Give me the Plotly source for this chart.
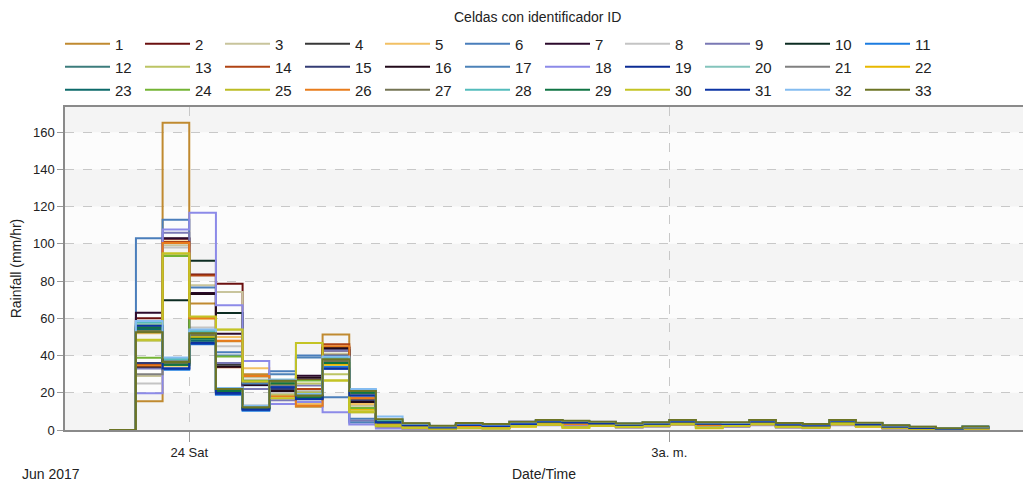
import pandas as pd
import plotly.graph_objects as go

# ---- time stamps (10-minute rainfall intervals) ----
times = pd.date_range("2017-06-23 23:30", "2017-06-24 05:00", freq="10min")

cell_ids = [str(i) for i in range(1, 34)]

# ---- rainfall (mm/hr) per cell, one list per cell ----
id_01 = [0, 15.4, 165, 67.9, 47.7, 30, 18.5, 12.5, 51.3, 16.7, 3.0, 1.5, 0.8, 1.8, 1.5, 2.5, 3.5, 3.0, 2.8, 2.0, 2.6, 3.8, 2.6, 2.4, 3.6, 2.0, 1.8, 3.5, 2.2, 1.2, 0.8, 0.4, 0.9, 0.9]
id_02 = [0, 60, 102.7, 83.5, 78.6, 26, 22, 27, 44.5, 15.4, 3.5, 2.0, 1.0, 2.2, 1.8, 2.8, 3.8, 3.4, 3.0, 2.4, 2.9, 4.0, 3.0, 2.8, 4.0, 2.4, 2.0, 3.9, 2.5, 1.5, 0.9, 0.5, 1.0, 1.0]
id_03 = [0, 29, 99.3, 77.7, 74.1, 28.4, 20, 21, 41, 13, 4.0, 2.5, 1.2, 2.5, 2.0, 3.0, 4.2, 3.8, 3.3, 2.6, 3.2, 4.4, 3.2, 3.0, 4.3, 2.7, 2.2, 4.2, 2.8, 1.7, 1.0, 0.6, 1.2, 1.2]
id_04 = [0, 55, 38, 52, 35, 12, 25, 18, 43, 20, 2.5, 1.2, 0.5, 1.5, 1.2, 2.2, 3.2, 2.8, 2.5, 1.8, 2.4, 3.4, 2.4, 2.2, 3.2, 1.8, 1.5, 3.2, 2.0, 1.0, 0.6, 0.3, 0.8, 0.8]
id_05 = [0, 52, 101.3, 59.8, 50, 33.2, 19, 14, 40, 14, 3.2, 1.8, 0.9, 2.0, 1.6, 2.6, 3.6, 3.2, 2.9, 2.2, 2.7, 3.9, 2.8, 2.6, 3.8, 2.2, 1.9, 3.7, 2.3, 1.3, 0.8, 0.4, 0.9, 0.9]
id_06 = [0, 103, 113, 76.5, 41.8, 24, 31.6, 40, 17.6, 6, 4.5, 2.8, 1.5, 3.0, 2.5, 3.8, 5.2, 4.6, 4.0, 3.0, 3.7, 5.0, 3.8, 3.6, 5.0, 3.3, 2.8, 5.0, 3.5, 2.2, 1.4, 0.8, 1.8, 1.8]
id_07 = [0, 63, 103, 73.6, 51.7, 24.2, 22, 29.2, 42.7, 15.4, 3.8, 2.2, 1.1, 2.4, 1.9, 3.0, 4.0, 3.6, 3.2, 2.5, 3.0, 4.2, 3.1, 2.9, 4.2, 2.6, 2.1, 4.0, 2.6, 1.6, 1.0, 0.5, 1.1, 1.1]
id_08 = [0, 25, 98, 55, 45, 27, 20, 21.2, 38, 10, 2.8, 1.4, 0.6, 1.6, 1.3, 2.3, 3.3, 2.9, 2.6, 1.9, 2.5, 3.5, 2.5, 2.3, 3.4, 1.9, 1.6, 3.3, 2.1, 1.1, 0.7, 0.3, 0.8, 0.8]
id_09 = [0, 33, 106, 52, 36, 22, 16, 23.9, 42.7, 5, 1.5, 1.0, 0.4, 1.4, 1.1, 4.0, 3.0, 2.6, 3.8, 1.6, 2.2, 3.0, 2.2, 2.0, 3.0, 1.6, 1.4, 3.0, 3.2, 1.0, 0.6, 0.3, 0.7, 0.7]
id_10 = [0, 54, 69.7, 90.9, 62.8, 26, 24, 19, 36, 19, 4.2, 2.6, 1.3, 2.8, 2.2, 3.3, 4.6, 4.2, 3.6, 2.8, 3.4, 4.6, 3.5, 3.3, 4.6, 3.0, 2.5, 4.6, 3.1, 1.9, 1.2, 0.7, 1.4, 1.4]
id_11 = [0, 56.5, 32.3, 46, 19, 10.4, 23.5, 16.7, 34, 20, 4.4, 2.8, 1.4, 2.9, 2.3, 3.5, 4.8, 4.3, 3.7, 2.9, 3.5, 4.8, 3.6, 3.4, 4.8, 3.1, 2.6, 4.8, 3.2, 2.0, 1.3, 0.8, 1.5, 1.5]
id_12 = [0, 57, 37, 51, 22, 11.5, 25, 18, 37, 20.5, 4.6, 3.0, 1.6, 3.1, 2.5, 3.7, 5.0, 4.5, 3.9, 3.1, 3.6, 5.0, 3.7, 3.5, 5.0, 3.2, 2.7, 5.0, 3.4, 2.1, 1.4, 0.8, 1.6, 1.6]
id_13 = [0, 48, 94.5, 60.7, 53.9, 26, 19, 25, 30, 9.5, 3.0, 1.6, 0.8, 1.4, 1.2, 2.6, 3.4, 2.0, 2.6, 2.0, 2.4, 3.6, 1.5, 2.5, 3.5, 2.0, 1.8, 3.6, 2.2, 1.3, 0.7, 0.4, 0.9, 0.9]
id_14 = [0, 35, 101, 83, 33.7, 25, 21, 22, 46, 17, 3.4, 2.0, 1.0, 2.1, 1.7, 2.7, 3.7, 3.3, 2.9, 2.3, 2.8, 3.9, 2.9, 2.7, 3.9, 2.3, 1.9, 3.8, 2.4, 1.4, 0.9, 0.5, 1.0, 1.0]
id_15 = [0, 36, 36, 50, 21, 12, 22, 17, 40, 16, 3.9, 2.4, 1.2, 2.6, 2.1, 3.2, 4.4, 4.0, 3.4, 2.7, 3.3, 4.5, 3.4, 3.2, 4.5, 2.9, 2.4, 4.4, 3.0, 1.8, 1.1, 0.6, 1.3, 1.3]
id_16 = [0, 34, 36, 73, 34, 24.5, 21, 28, 44, 15, 3.6, 2.1, 1.0, 2.3, 1.8, 2.9, 3.9, 3.5, 3.1, 2.4, 3.0, 4.1, 3.0, 2.8, 4.1, 2.5, 2.0, 4.0, 2.5, 1.5, 0.9, 0.5, 1.0, 1.0]
id_17 = [0, 58, 38, 52, 40, 25, 30, 39, 39, 4, 4.8, 3.0, 1.7, 3.2, 2.7, 4.0, 5.4, 4.8, 4.2, 3.2, 3.8, 5.2, 3.9, 3.7, 5.2, 3.4, 2.9, 5.2, 3.6, 2.3, 1.5, 0.9, 1.9, 1.9]
id_18 = [0, 19.7, 107.7, 116.7, 67, 37, 14, 15, 9.5, 2.9, 0.8, 0.6, 0.3, 1.0, 0.8, 4.5, 2.5, 2.2, 4.4, 1.2, 1.8, 2.8, 1.8, 1.6, 2.6, 1.2, 1.0, 2.6, 3.8, 0.8, 0.5, 0.2, 0.6, 0.6]
id_19 = [0, 55, 33, 47, 20, 11, 24, 17, 33, 18.5, 4.0, 2.5, 1.3, 2.7, 2.2, 3.3, 4.5, 4.1, 3.5, 2.8, 3.4, 4.6, 3.4, 3.2, 4.6, 2.9, 2.4, 4.5, 3.0, 1.8, 1.1, 0.6, 1.3, 1.3]
id_20 = [0, 57, 38.2, 53, 22, 12, 25, 18.5, 38, 21, 5.0, 3.2, 1.8, 3.3, 2.8, 4.0, 5.2, 4.7, 4.1, 3.3, 3.9, 5.3, 3.9, 3.8, 5.2, 3.5, 3.0, 5.2, 3.6, 2.3, 1.5, 0.9, 1.7, 1.7]
id_21 = [0, 30, 37, 51, 21.5, 13, 24, 20, 36, 19, 3.3, 3.6, 2.0, 2.0, 1.7, 2.7, 3.7, 3.3, 2.9, 3.6, 2.8, 3.9, 2.9, 2.7, 3.9, 2.3, 1.9, 3.8, 2.4, 2.6, 1.7, 1.0, 1.0, 1.0]
id_22 = [0, 53.5, 34.6, 49.9, 21, 12, 25, 19, 35, 11, 2.0, 1.0, 0.5, 1.0, 0.8, 1.8, 2.8, 1.2, 2.2, 1.5, 2.0, 3.0, 1.0, 2.0, 3.0, 1.5, 1.2, 3.0, 1.8, 1.0, 0.6, 0.3, 0.7, 0.7]
id_23 = [0, 54, 35, 48, 21, 12, 26, 18, 37, 20, 4.3, 2.7, 1.4, 2.9, 2.3, 3.4, 4.7, 4.2, 3.6, 2.9, 3.4, 4.7, 3.5, 3.3, 4.7, 3.0, 2.5, 4.7, 3.2, 1.9, 1.2, 0.7, 1.4, 1.4]
id_24 = [0, 38.8, 93.4, 51.7, 39.5, 26.5, 26.5, 26.6, 36.4, 11.8, 3.6, 2.0, 1.0, 2.3, 1.9, 2.9, 3.9, 3.5, 3.1, 2.5, 3.0, 4.1, 3.0, 2.8, 4.1, 2.5, 2.1, 4.0, 2.6, 1.5, 0.9, 0.5, 1.1, 1.1]
id_25 = [0, 56, 36, 50.5, 22, 12, 26, 20, 26.6, 9.5, 2.2, 1.2, 0.6, 1.1, 0.9, 2.0, 3.0, 1.4, 2.4, 1.7, 2.2, 3.2, 1.2, 2.2, 3.2, 1.7, 1.4, 3.2, 2.0, 1.2, 0.7, 0.4, 0.8, 0.8]
id_26 = [0, 34.6, 100.5, 60, 48, 29, 18, 13, 45, 17, 3.1, 1.7, 0.8, 1.9, 1.5, 2.5, 3.5, 3.1, 2.8, 2.1, 2.6, 3.7, 2.7, 2.5, 3.7, 2.1, 1.8, 3.6, 2.2, 1.3, 0.8, 0.4, 0.9, 0.9]
id_27 = [0, 53, 36, 51, 22, 12.2, 26, 18, 37, 20, 5.5, 3.4, 2.1, 3.6, 3.0, 4.2, 5.2, 4.8, 4.2, 3.4, 4.0, 5.2, 4.0, 3.9, 5.2, 3.6, 3.0, 5.2, 3.7, 2.4, 1.6, 0.9, 1.8, 1.8]
id_28 = [0, 58, 38, 53, 21.5, 12.5, 27, 19, 39, 21.5, 5.2, 3.2, 1.9, 3.4, 2.9, 4.1, 5.3, 4.8, 4.2, 3.3, 3.9, 5.3, 3.9, 3.8, 5.3, 3.5, 3.0, 5.3, 3.7, 2.3, 1.5, 0.9, 1.8, 1.8]
id_29 = [0, 55, 35, 49, 21, 12, 25, 17.5, 36, 20, 4.1, 2.6, 1.3, 2.8, 2.2, 3.3, 4.6, 4.1, 3.6, 2.8, 3.4, 4.6, 3.5, 3.3, 4.6, 3.0, 2.5, 4.6, 3.1, 1.9, 1.2, 0.7, 1.4, 1.4]
id_30 = [0, 48.5, 95, 61, 54, 26, 17, 46.7, 26.6, 10, 2.5, 1.3, 0.7, 1.2, 1.0, 2.1, 3.1, 1.5, 2.5, 1.8, 2.3, 3.3, 1.3, 2.3, 3.3, 1.8, 1.5, 3.3, 2.1, 1.2, 0.7, 0.4, 0.8, 0.8]
id_31 = [0, 56, 33, 46.5, 19.5, 11, 23, 16.5, 32.9, 18.5, 4.0, 2.5, 1.3, 2.7, 2.1, 3.2, 4.5, 4.0, 3.5, 2.8, 3.3, 4.5, 3.4, 3.2, 4.5, 2.9, 2.4, 4.8, 3.0, 1.8, 1.1, 0.6, 1.3, 1.3]
id_32 = [0, 58.5, 39, 54, 22.5, 13, 27, 19.5, 39.5, 22, 7.2, 3.3, 2.0, 3.5, 3.0, 4.2, 5.3, 4.9, 4.3, 3.4, 4.0, 5.3, 4.0, 3.9, 5.3, 3.6, 3.1, 5.3, 3.8, 2.4, 1.6, 0.9, 1.8, 1.8]
id_33 = [0, 52.5, 36.5, 52, 22, 12.2, 26.5, 18.5, 38, 21, 5.8, 3.6, 2.3, 3.8, 3.2, 4.4, 5.4, 5.0, 4.4, 3.5, 4.1, 5.4, 4.1, 4.1, 5.4, 3.7, 3.2, 5.4, 3.9, 2.6, 1.7, 1.0, 1.9, 1.9]

series = [id_01, id_02, id_03, id_04, id_05, id_06, id_07, id_08, id_09, id_10, id_11,
          id_12, id_13, id_14, id_15, id_16, id_17, id_18, id_19, id_20, id_21, id_22,
          id_23, id_24, id_25, id_26, id_27, id_28, id_29, id_30, id_31, id_32, id_33]

colors = ["#c08a30", "#6b1010", "#c8c49c", "#383838", "#f2c064", "#4a7ebb", "#2c0a2c",
          "#c4c4c4", "#7a78b4", "#0c2c22", "#1c7ce0", "#3c7c7c", "#bcc464", "#b04414",
          "#343c74", "#220a1a", "#4c82b8", "#8c8ae8", "#0c2c94", "#84c4bc", "#808080",
          "#e8b800", "#0c6a6a", "#74b434", "#bcbc24", "#e87c1c", "#747454", "#54bcbc",
          "#107444", "#c4c424", "#0c34a4", "#84bcf0", "#6c7424"]

FONT = "Liberation Sans, Arial, sans-serif"
TXT = "#222222"

# plot-area geometry in pixels (used only to place text in paper units)
PLOT_L, PLOT_R, PLOT_T, PLOT_B = 65, 1023, 107, 430
PW, PH = PLOT_R - PLOT_L, PLOT_B - PLOT_T

# legend rows (11 entries each), one plotly legend per row
legend_ids = ["legend", "legend2", "legend3"]
row_centers_px = [44, 67, 90]

fig = go.Figure()
for i, (name, vals, col) in enumerate(zip(cell_ids, series, colors)):
    fig.add_trace(go.Scatter(
        x=times, y=vals, name=name, mode="lines",
        line=dict(color=col, width=2, shape="hv"),
        legend=legend_ids[i // 11],
    ))

# subtle alternating horizontal bands
for lo in (0, 40, 80, 120, 160):
    fig.add_shape(type="rect", xref="paper", yref="y", x0=0, x1=1, y0=lo,
                  y1=min(lo + 20, 173.5), fillcolor="#f4f4f4", line_width=0,
                  layer="below")

legend_common = dict(
    orientation="h", xref="container", x=60 / 1024, xanchor="left",
    yref="container", yanchor="middle",
    entrywidth=20, entrywidthmode="pixels", itemwidth=45,
    font=dict(family=FONT, size=15, color=TXT),
    bgcolor="rgba(0,0,0,0)", tracegroupgap=0,
)
legends = {}
for lid, yc in zip(legend_ids, row_centers_px):
    legends[lid] = dict(legend_common, y=1 - yc / 484)

fig.update_layout(
    width=1024, height=484,
    margin=dict(l=PLOT_L, r=1024 - PLOT_R, t=PLOT_T, b=484 - PLOT_B, autoexpand=False),
    paper_bgcolor="white", plot_bgcolor="#fcfcfc",
    font=dict(family=FONT, size=13, color=TXT),
    showlegend=True,
    **legends,
    xaxis=dict(
        type="date", automargin=False,
        range=["2017-06-23 23:13:24", "2017-06-24 05:12:40"],
        tickvals=["2017-06-24 00:00", "2017-06-24 03:00"],
        ticktext=["24 Sat", "3a. m."],
        ticks="outside", ticklen=10, tickcolor="#999",
        showgrid=True, gridcolor="#c8c8c8", griddash="dash", gridwidth=1,
        showline=True, linecolor="#8a8a8a", linewidth=1.5, mirror=True,
        zeroline=False,
        tickfont=dict(family=FONT, size=13, color=TXT),
        title=dict(text="Date/Time", standoff=10,
                   font=dict(family=FONT, size=14, color=TXT)),
    ),
    yaxis=dict(
        automargin=False,
        range=[0, 173.5], tick0=0, dtick=20,
        ticks="outside", ticklen=6, tickcolor="#999",
        showgrid=True, gridcolor="#c8c8c8", griddash="dash", gridwidth=1,
        showline=True, linecolor="#8a8a8a", linewidth=1.5,
        zeroline=False,
        tickfont=dict(family=FONT, size=13, color=TXT),
        title=dict(text="Rainfall (mm/hr)", standoff=8,
                   font=dict(family=FONT, size=14, color=TXT)),
    ),
    annotations=[
        dict(text="Celdas con identificador ID", xref="paper", yref="paper",
             x=(537 - PLOT_L) / PW, y=(PLOT_B - 17) / PH,
             xanchor="center", yanchor="middle",
             showarrow=False, font=dict(family=FONT, size=14, color=TXT)),
        dict(text="Jun 2017", xref="paper", yref="paper",
             x=(51 - PLOT_L) / PW, y=(PLOT_B - 474) / PH,
             xanchor="center", yanchor="middle",
             showarrow=False, font=dict(family=FONT, size=14, color=TXT)),
    ],
)

# place the figure flush with the page's top-left corner, no mode bar
fig.write_html("out.html",
               config={"displayModeBar": False},
               post_script="document.body.style.margin='0';document.body.style.overflow='hidden';")
